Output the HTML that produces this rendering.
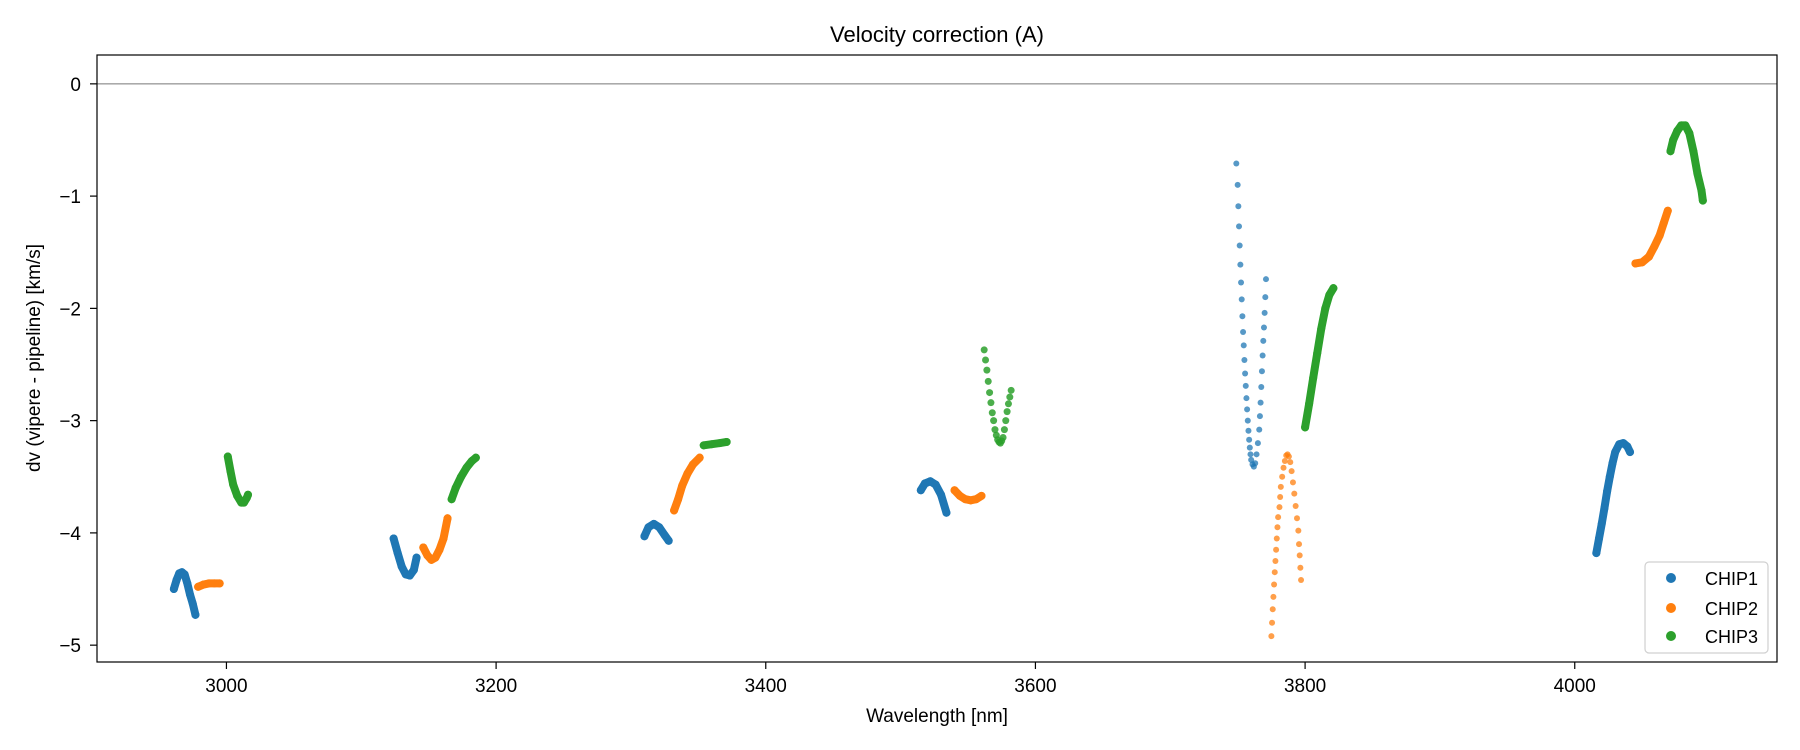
<!DOCTYPE html>
<html><head><meta charset="utf-8"><style>
body{margin:0;background:#fff}
svg{display:block;font-family:"Liberation Sans",sans-serif}
</style></head><body>
<svg id="chart" width="1800" height="750" xmlns="http://www.w3.org/2000/svg">
<rect width="1800" height="750" fill="#fff"/>
<text x="937" y="42" font-size="22" text-anchor="middle" fill="#000">Velocity correction (A)</text>
<g id="marks"></g>
<g id="axes"></g>
<text x="937" y="722" font-size="19" text-anchor="middle">Wavelength [nm]</text>
<text transform="translate(40,358) rotate(-90)" font-size="19" text-anchor="middle">dv (vipere - pipeline) [km/s]</text>
<g>
<rect x="1645" y="562" width="123" height="91" rx="4" fill="#fff" stroke="#ccc" stroke-width="1.2" opacity="0.9"/>
<circle cx="1671" cy="578" r="5" fill="#1f77b4"/>
<text x="1705" y="585" font-size="18">CHIP1</text>
<circle cx="1671" cy="608" r="5" fill="#ff7f0e"/>
<text x="1705" y="615" font-size="18">CHIP2</text>
<circle cx="1671" cy="636" r="5" fill="#2ca02c"/>
<text x="1705" y="643" font-size="18">CHIP3</text>
</g>
</svg>
<script>
const xTicks = [3000, 3200, 3400, 3600, 3800, 4000];
const yTicks = [0, -1, -2, -3, -4, -5];
const chip1Dense = [
 [[2961,-4.5],[2963,-4.42],[2965,-4.36],[2967,-4.35],[2969,-4.37],[2971,-4.45],[2973,-4.55],[2975,-4.63],[2977,-4.73]],
 [[3124,-4.05],[3127,-4.18],[3130,-4.3],[3133,-4.37],[3136,-4.38],[3139,-4.33],[3141,-4.22]],
 [[3310,-4.03],[3313,-3.95],[3317,-3.92],[3321,-3.95],[3325,-4.02],[3328,-4.07]],
 [[3515,-3.62],[3518,-3.56],[3522,-3.54],[3526,-3.57],[3530,-3.66],[3534,-3.82]],
 [[4016,-4.18],[4018,-4.05],[4020,-3.92],[4022,-3.78],[4024,-3.63],[4026,-3.5],[4028,-3.38],[4030,-3.28],[4033,-3.21],[4036,-3.2],[4039,-3.23],[4041,-3.28]]
];
const chip1Sparse = [
 [[3749,-0.71],[3750,-0.9],[3750.5,-1.09],[3751,-1.27],[3751.5,-1.44],[3752,-1.61],[3752.5,-1.77],[3753,-1.92],[3753.5,-2.07],[3754,-2.21],[3754.5,-2.33],[3755,-2.46],[3755.5,-2.58],[3756,-2.69],[3756.5,-2.8],[3757,-2.9],[3757.5,-3.0],[3758,-3.09],[3758.5,-3.17],[3759,-3.24],[3759.5,-3.3],[3760,-3.35],[3761,-3.39],[3762,-3.41],[3763,-3.38],[3764,-3.3],[3765,-3.2],[3766,-3.08],[3766.5,-2.96],[3767,-2.84],[3767.5,-2.7],[3768,-2.56],[3768.5,-2.42],[3769,-2.29],[3769.5,-2.17],[3770,-2.04],[3770.5,-1.9],[3771,-1.74]]
];
const chip2Dense = [
 [[2979,-4.48],[2983,-4.46],[2987,-4.45],[2991,-4.45],[2995,-4.45]],
 [[3146,-4.13],[3149,-4.2],[3152,-4.24],[3155,-4.22],[3158,-4.15],[3161,-4.05],[3164,-3.87]],
 [[3332,-3.8],[3335,-3.7],[3338,-3.58],[3342,-3.47],[3346,-3.39],[3351,-3.33]],
 [[3540,-3.62],[3544,-3.67],[3548,-3.7],[3552,-3.71],[3556,-3.7],[3560,-3.67]],
 [[4045,-1.6],[4050,-1.59],[4055,-1.54],[4059,-1.45],[4063,-1.35],[4066,-1.24],[4069,-1.13]]
];
const chip2Sparse = [
 [[3775,-4.92],[3775.5,-4.8],[3776,-4.68],[3776.5,-4.57],[3777,-4.46],[3777.5,-4.35],[3778,-4.25],[3778.5,-4.15],[3779,-4.05],[3779.5,-3.95],[3780,-3.86],[3781,-3.77],[3781.5,-3.68],[3782,-3.59],[3783,-3.5],[3784,-3.42],[3785,-3.36],[3786,-3.31],[3787,-3.3],[3788,-3.32],[3789,-3.37],[3790,-3.45],[3791,-3.55],[3792,-3.65],[3793,-3.76],[3794,-3.87],[3795,-3.98],[3795.5,-4.1],[3796,-4.2],[3796.5,-4.31],[3797,-4.42]]
];
const chip3Dense = [
 [[3001,-3.32],[3003,-3.45],[3005,-3.57],[3008,-3.67],[3011,-3.73],[3013,-3.73],[3015,-3.69],[3016,-3.66]],
 [[3167,-3.7],[3170,-3.6],[3174,-3.5],[3178,-3.42],[3182,-3.36],[3185,-3.33]],
 [[3354,-3.22],[3360,-3.21],[3366,-3.2],[3371,-3.19]],
 [[3800,-3.06],[3803,-2.85],[3806,-2.62],[3809,-2.4],[3812,-2.18],[3815,-2.0],[3818,-1.88],[3821,-1.82]],
 [[4071,-0.6],[4073,-0.5],[4076,-0.42],[4079,-0.37],[4082,-0.37],[4085,-0.44],[4088,-0.6],[4091,-0.8],[4094,-0.95],[4095,-1.04]]
];
const chip3Sparse = [
 [[3562,-2.37],[3563,-2.46],[3564,-2.55],[3565,-2.65],[3566,-2.75],[3567,-2.84],[3568,-2.93],[3569,-3.0],[3570,-3.08],[3571,-3.13],[3572,-3.17],[3573,-3.19],[3574,-3.2],[3575,-3.18],[3576,-3.15],[3577,-3.08],[3578,-3.0],[3579,-2.92],[3580,-2.85],[3581,-2.79],[3582,-2.73]]
];
const X0=97, X1=1777, Y0=55, Y1=662;
const XMIN=2904, XMAX=4150, YMIN=-5.15, YMAX=0.257;
function sx(v){return X0+(v-XMIN)/(XMAX-XMIN)*(X1-X0);}
function sy(v){return Y1-(v-YMIN)/(YMAX-YMIN)*(Y1-Y0);}
const NS="http://www.w3.org/2000/svg";
const marks=document.getElementById('marks');
const axes=document.getElementById('axes');
const zl=document.createElementNS(NS,'line');
zl.setAttribute('x1',X0);zl.setAttribute('x2',X1);zl.setAttribute('y1',sy(0));zl.setAttribute('y2',sy(0));
zl.setAttribute('stroke','#777');zl.setAttribute('stroke-width','1');


marks.appendChild(zl);
function drawSegs(segs,color,dense,chip,r,op){
 segs.forEach(function(seg){
  const g=document.createElementNS(NS,'g');
  
  
  g.setAttribute('fill',color);
  if(dense){
   const pl=document.createElementNS(NS,'polyline');
   pl.setAttribute('points',seg.map(p=>sx(p[0])+','+sy(p[1])).join(' '));
   pl.setAttribute('fill','none');pl.setAttribute('stroke',color);
   pl.setAttribute('stroke-width','8');pl.setAttribute('stroke-linecap','round');pl.setAttribute('stroke-linejoin','round');
   
   
   g.appendChild(pl);
  }
  seg.forEach(function(p){
   const c=document.createElementNS(NS,'circle');
   c.setAttribute('cx',sx(p[0]));c.setAttribute('cy',sy(p[1]));c.setAttribute('r',r);
   c.setAttribute('opacity',op);
   
   
   g.appendChild(c);
  });
  marks.appendChild(g);
 });
}
drawSegs(chip1Dense,'#1f77b4',true,'chip1',4,1);
drawSegs(chip1Sparse,'#1f77b4',false,'chip1',3,0.75);
drawSegs(chip2Dense,'#ff7f0e',true,'chip2',4,1);
drawSegs(chip2Sparse,'#ff7f0e',false,'chip2',3,0.75);
drawSegs(chip3Dense,'#2ca02c',true,'chip3',4,1);
drawSegs(chip3Sparse,'#2ca02c',false,'chip3',3.5,0.85);
const fr=document.createElementNS(NS,'rect');
fr.setAttribute('x',X0);fr.setAttribute('y',Y0);fr.setAttribute('width',X1-X0);fr.setAttribute('height',Y1-Y0);
fr.setAttribute('fill','none');fr.setAttribute('stroke','#000');fr.setAttribute('stroke-width','1.2');


axes.appendChild(fr);
xTicks.forEach(function(t){
 const x=sx(t);
 const l=document.createElementNS(NS,'line');
 l.setAttribute('x1',x);l.setAttribute('x2',x);l.setAttribute('y1',Y1);l.setAttribute('y2',Y1+7);
 l.setAttribute('stroke','#000');l.setAttribute('stroke-width','1.2');
 
 
 axes.appendChild(l);
 const tx=document.createElementNS(NS,'text');
 tx.setAttribute('x',x);tx.setAttribute('y',Y1+30);tx.setAttribute('font-size','19');tx.setAttribute('text-anchor','middle');
 tx.textContent=t;
 
 
 axes.appendChild(tx);
});
yTicks.forEach(function(t){
 const y=sy(t);
 const l=document.createElementNS(NS,'line');
 l.setAttribute('x1',X0-7);l.setAttribute('x2',X0);l.setAttribute('y1',y);l.setAttribute('y2',y);
 l.setAttribute('stroke','#000');l.setAttribute('stroke-width','1.2');
 
 
 axes.appendChild(l);
 const tx=document.createElementNS(NS,'text');
 tx.setAttribute('x',X0-16);tx.setAttribute('y',y+7);tx.setAttribute('font-size','19');tx.setAttribute('text-anchor','end');
 tx.textContent=t<0?'\u2212'+Math.abs(t):String(t);
 
 
 axes.appendChild(tx);
});
</script>
</body></html>
